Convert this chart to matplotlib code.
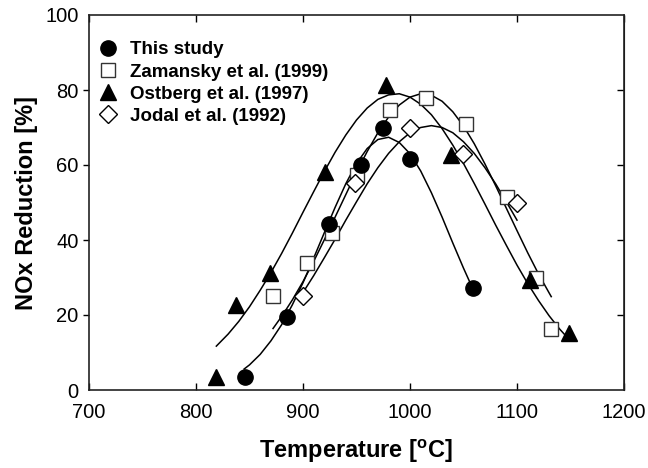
import matplotlib
matplotlib.use('Agg')
import matplotlib.pyplot as plt

plt.rcParams['font.family'] = ['Liberation Sans', 'DejaVu Sans']
plt.rcParams['mathtext.fontset'] = 'custom'
plt.rcParams['mathtext.rm'] = 'Liberation Sans'
plt.rcParams['mathtext.bf'] = 'Liberation Sans:bold'

# measured points
study_t = [846, 885, 924, 954, 975, 1000, 1059]
study_v = [3.5, 19.6, 44.2, 60.0, 69.8, 61.5, 27.1]

zam_t = [872, 904, 927, 950, 981, 1015, 1052, 1091, 1118, 1132]
zam_v = [25.1, 33.9, 41.9, 57.3, 74.8, 77.8, 70.9, 51.6, 30.0, 16.2]

ost_t = [819, 837, 869, 921, 978, 1038, 1112, 1149]
ost_v = [3.6, 22.7, 31.1, 58.2, 81.3, 62.7, 29.3, 15.3]

jod_t = [900, 949, 1000, 1050, 1100]
jod_v = [25.1, 55.1, 69.8, 62.9, 49.8]

# fitted curves
study_fit_t = [845, 850, 860, 870, 880, 890, 900, 910, 920, 930, 940, 950, 960,
               970, 980, 990, 1000, 1010, 1020, 1030, 1040, 1050, 1059]
study_fit_v = [5.6, 6.7, 9.5, 13.1, 17.4, 22.7, 28.6, 35.2, 42.0, 48.7, 55.0, 60.4, 64.4,
               66.8, 67.4, 66.0, 63.0, 58.4, 52.6, 46.1, 39.2, 32.5, 26.8]

zam_fit_t = [872, 880, 890, 900, 910, 920, 930, 940, 950, 960, 970, 980, 990, 1000,
             1010, 1020, 1030, 1040, 1050, 1060, 1070, 1080, 1090, 1100, 1110, 1120, 1130, 1132]
zam_fit_v = [16.4, 19.6, 24.0, 28.9, 34.3, 40.1, 46.1, 52.1, 58.1, 63.6, 68.6, 72.8, 76.0, 78.1,
             79.0, 78.6, 77.0, 74.2, 70.4, 65.7, 60.3, 54.5, 48.5, 42.5, 36.6, 31.0, 25.9, 24.9]

ost_fit_t = [819, 830, 840, 850, 860, 870, 880, 890, 900, 910, 920, 930, 940, 950, 960, 970,
             980, 990, 1000, 1010, 1020, 1030, 1040, 1050, 1060, 1070, 1080, 1090, 1100, 1110,
             1120, 1130, 1140, 1148]
ost_fit_v = [11.7, 14.9, 18.3, 22.2, 26.6, 31.3, 36.4, 41.8, 47.4, 52.9, 58.3, 63.4, 68.0, 72.0,
             75.2, 77.5, 78.7, 79.0, 78.1, 76.2, 73.4, 69.7, 65.3, 60.4, 55.1, 49.6, 44.0, 38.6,
             33.3, 28.4, 23.9, 19.8, 16.2, 13.7]

jod_fit_t = [902, 910, 920, 930, 940, 950, 960, 970, 980, 990, 1000, 1010, 1020, 1030,
             1040, 1050, 1060, 1070, 1080, 1090, 1100]
jod_fit_v = [26.9, 30.5, 35.3, 40.2, 45.3, 50.2, 55.0, 59.3, 63.1, 66.2, 68.6, 70.0, 70.5, 70.0,
             68.6, 66.2, 63.1, 59.3, 55.0, 50.2, 45.3]

fig = plt.figure(figsize=(6.48, 4.68), dpi=100)
ax = fig.add_axes([89/648, 78/468, 535/648, 375/468])

for t, v in [(study_fit_t, study_fit_v), (zam_fit_t, zam_fit_v),
             (ost_fit_t, ost_fit_v), (jod_fit_t, jod_fit_v)]:
    ax.plot(t, v, color='black', lw=1.1, zorder=2)

ax.plot(study_t, study_v, 'o', ms=11, color='black', ls='none', label='This study', zorder=4)
ax.plot(zam_t, zam_v, 's', ms=10, mfc='white', mec='#333333', mew=1.0, ls='none',
        label='Zamansky et al. (1999)', zorder=3)
ax.plot(ost_t, ost_v, '^', ms=11, color='black', ls='none', label='Ostberg et al. (1997)', zorder=4)
ax.plot(jod_t, jod_v, 'D', ms=9, mfc='white', mec='black', mew=1.0, ls='none',
        label='Jodal et al. (1992)', zorder=3)

ax.set_xlim(700, 1200)
ax.set_ylim(0, 100)
ax.set_xticks([700, 800, 900, 1000, 1100, 1200])
ax.set_yticks([0, 20, 40, 60, 80, 100])
ax.tick_params(axis='x', direction='in', top=True, length=5, width=1, labelsize=14.5, pad=9)
ax.tick_params(axis='y', direction='out', length=4, width=1, labelsize=14.5)
for tk in [ax.yaxis.get_major_ticks()[0], ax.yaxis.get_major_ticks()[-1]]:
    tk.tick1line.set_visible(False)

right = ax.secondary_yaxis('right')
right.set_yticks([20, 40, 60, 80])
right.tick_params(direction='in', length=5, width=1, labelright=False)

for s in ax.spines.values():
    s.set_linewidth(1.2)
    s.set_color('#222222')

ax.set_xlabel('Temperature [$\\mathbf{^o}$C]', fontsize=17, fontweight='bold', labelpad=12)
ax.set_ylabel('NOx Reduction [%]', fontsize=17, fontweight='bold', labelpad=5)

ax.legend(loc='upper left', bbox_to_anchor=(0.004, 0.95), borderaxespad=0, frameon=False,
          prop={'weight': 'bold', 'size': 13.5}, handletextpad=0.72, labelspacing=0.27,
          handlelength=0.95)

fig.savefig('out.png', dpi=100)
